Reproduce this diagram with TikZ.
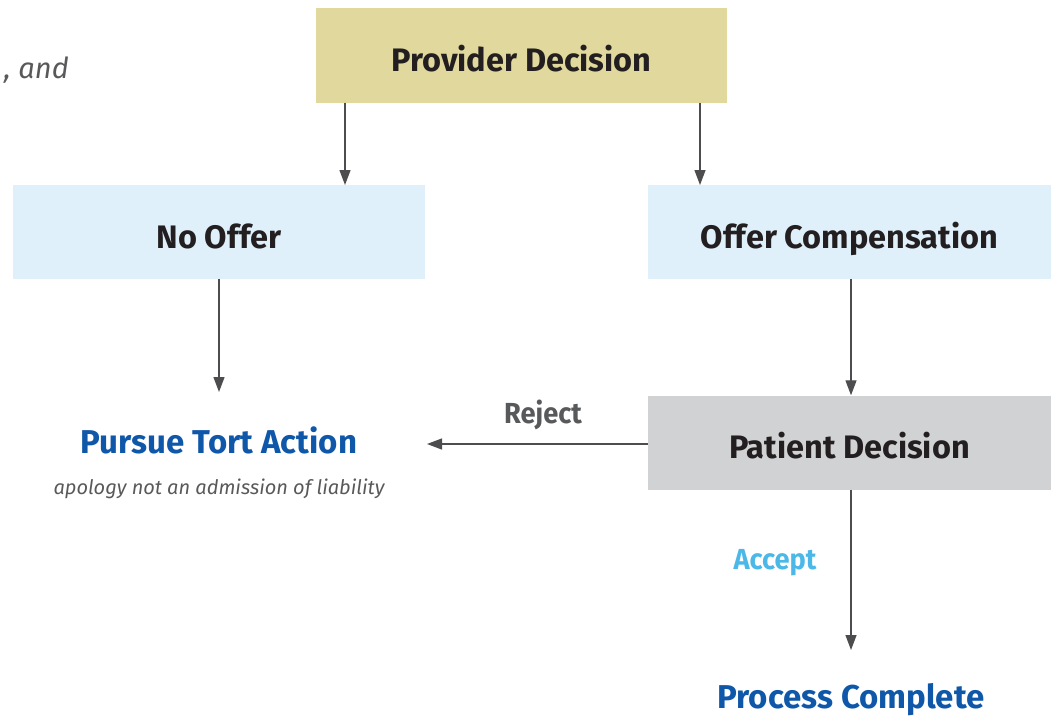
\documentclass[tikz,border=0pt]{standalone}
\usepackage{fontspec}
\setmainfont{Fira Sans}
\usetikzlibrary{arrows.meta}
\definecolor{tan}{HTML}{E0D89C}
\definecolor{lblue}{HTML}{DFF0FA}
\definecolor{lgrey}{HTML}{D1D2D4}
\definecolor{dtext}{HTML}{231F20}
\definecolor{navy}{HTML}{0F57A8}
\definecolor{sky}{HTML}{4CB8E8}
\definecolor{arr}{HTML}{4D4D4F}
\definecolor{gtext}{HTML}{58595B}
\newcommand{\cond}[1]{\scalebox{0.94}[1]{#1}}
\tikzset{
  box/.style={draw=none, minimum height=94pt, inner sep=0pt, text height=32pt, text depth=0pt, text=dtext, font=\fontsize{32.5}{36}\selectfont\bfseries},
  outcome/.style={anchor=base, text=navy, inner sep=0pt, font=\fontsize{33}{36}\selectfont\bfseries},
  conn/.style={draw=arr, line width=1.3pt, -{Triangle[width=11pt,length=15pt]}},
  lbl/.style={anchor=base, inner sep=0pt, font=\fontsize{29}{32}\selectfont\bfseries}
}
\begin{document}
\begin{tikzpicture}[x=1pt,y=-1pt]
\useasboundingbox (0,0) rectangle (1051,717);
\node[box, fill=tan, minimum width=411pt] (prov) at (521.5,55.5) {Provider Decision};
\node[box, fill=lblue, minimum width=412pt] (no) at (219,232) {No Offer};
\node[box, fill=lblue, minimum width=403pt] (offer) at (849.5,232) {Offer Compensation};
\node[box, fill=lgrey, minimum width=403pt] (pat) at (849.5,442.5) {Patient Decision};
\node[outcome] (tort) at (219,453) {Pursue Tort Action};
\node[anchor=base, inner sep=0pt, text=gtext, font=\fontsize{20}{22}\selectfont\itshape] (apol) at (219,494) {apology not an admission of liability};
\node[outcome] (done) at (851,708) {Process Complete};
\node[lbl, text=gtext] (rej) at (543,423) {\cond{Reject}};
\node[lbl, text=sky] (acc) at (775,569) {\cond{Accept}};
\node[anchor=base east, inner sep=0pt, text=gtext, font=\fontsize{29}{32}\selectfont\itshape] (and) at (69,78) {, and};
\coordinate (t1) at (345,185);
\coordinate (t2) at (700,185);
\draw[conn] (prov.south -| t1) -- (t1);
\draw[conn] (prov.south -| t2) -- (t2);
\draw[conn] (no.south) -- (219,392) coordinate (tt);
\draw[conn] (offer.south -| 851,0) -- (pat.north -| 851,0);
\draw[conn] (pat.west |- 0,444) -- (427,444) coordinate (tr);
\draw[conn] (pat.south -| 851,0) -- (851,650) coordinate (pc);
\end{tikzpicture}
\end{document}
